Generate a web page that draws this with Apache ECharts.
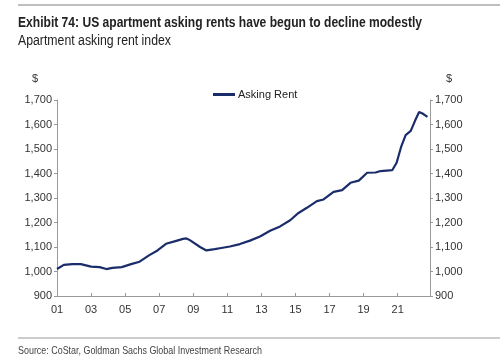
<!DOCTYPE html>
<html>
<head>
<meta charset="utf-8">
<script src="https://cdn.jsdelivr.net/npm/echarts@6/dist/echarts.min.js"></script>
<style>html,body{margin:0;padding:0;background:#fff;}#c{width:500px;height:360px;}</style>
</head>
<body>
<div id="c"></div>
<script>
// years since 2001
var yearOffsets = [0.0,0.4,0.9,1.4,2.0,2.5,2.9,3.25,3.8,4.35,4.85,5.4,5.9,6.4,6.9,7.4,7.6,7.8,8.4,8.77,9.26,9.56,10.15,10.74,11.33,11.92,12.51,13.1,13.69,14.18,14.67,15.26,15.65,16.24,16.74,17.23,17.72,18.21,18.7,19.0,19.69,19.94,20.22,20.47,20.77,21.02,21.26,21.46,21.75];
var askingRent = [1010,1027,1030,1030,1020,1018,1010,1015,1018,1030,1040,1066,1086,1113,1123,1133,1135,1128,1100,1086,1091,1095,1102,1112,1126,1143,1166,1184,1209,1239,1260,1287,1294,1325,1332,1362,1371,1403,1404,1410,1414,1444,1512,1557,1574,1615,1651,1645,1631];
var xTickValues = [0,2,4,6,8,10,12,14,16,18,20];
var xTickLabels = ['01','03','05','07','09','11','13','15','17','19','21'];
var seriesName = 'Asking Rent';
var titleText = 'Exhibit 74: US apartment asking rents have begun to decline modestly';
var subtitleText = 'Apartment asking rent index';
var sourceText = 'Source: CoStar, Goldman Sachs Global Investment Research';
var unitLabel = '$';

var pts = yearOffsets.map(function(t,i){return [t, askingRent[i]];});
var font = '"Liberation Sans", Arial, sans-serif';
var ctx = document.createElement('canvas').getContext('2d');
function fitScale(text, weight, size, target){
  ctx.font = weight + ' ' + size + 'px "Liberation Sans", Arial, sans-serif';
  var w = ctx.measureText(text).width;
  return target / w;
}
var chart = echarts.init(document.getElementById('c'), null, {renderer:'canvas'});
function fmt(v){return v.toString().replace(/\B(?=(\d{3})+(?!\d))/g, ',');}
var yBase = {
  type:'value', min:900, max:1700, interval:100,
  axisLine:{show:true, lineStyle:{color:'#999', width:1}},
  axisTick:{show:true, length:3, lineStyle:{color:'#999'}},
  axisLabel:{color:'#333', fontSize:11, fontFamily:font, margin:5, formatter:fmt},
  splitLine:{show:false}
};
function scaledText(text, weight, size, target, x, y, fill){
  return {type:'text', x:x, y:y, scaleX:fitScale(text, weight, size, target), scaleY:1,
    style:{text:text, fill:fill, fontSize:size, fontWeight:weight, fontFamily:font, textVerticalAlign:'middle', verticalAlign:'middle'}};
}
chart.setOption({
  animation:false,
  legend:{
    data:[seriesName], top:84, left:208, itemWidth:22, itemHeight:3, itemGap:4,
    icon:'rect',
    textStyle:{fontFamily:font, fontSize:11, color:'#222', padding:[0,0,0,-2]}
  },
  grid:{left:57, right:70, top:100, bottom:64},
  xAxis:{
    type:'value', min:0, max:21.9,
    axisLine:{show:true, onZero:false, lineStyle:{color:'#999'}},
    axisTick:{show:true, length:3, inside:true, customValues:xTickValues, lineStyle:{color:'#999'}},
    axisLabel:{color:'#333', fontSize:11, fontFamily:font, margin:8, customValues:xTickValues,
      formatter:function(v){var i=xTickValues.indexOf(v); return i>=0?xTickLabels[i]:'';}},
    splitLine:{show:false}
  },
  yAxis:[
    Object.assign({}, yBase, {position:'left'}),
    Object.assign({}, yBase, {position:'right'})
  ],
  series:[{
    name:seriesName, type:'line', data:pts, yAxisIndex:0,
    showSymbol:false, symbol:'none',
    lineStyle:{color:'#1b2c6b', width:2.2}, itemStyle:{color:'#1b2c6b'}
  }],
  graphic:[
    {type:'line', shape:{x1:18,y1:5,x2:500,y2:5}, style:{stroke:'#aaa', lineWidth:1.5}},
    {type:'line', shape:{x1:18,y1:338,x2:500,y2:338}, style:{stroke:'#999', lineWidth:1}},
    scaledText(titleText, 'bold', 15, 404, 18, 23, '#222'),
    scaledText(subtitleText, 'normal', 14, 153, 18, 41, '#222'),
    scaledText(sourceText, 'normal', 11, 244, 18, 351, '#444'),
    {type:'text', x:35, y:79, style:{text:unitLabel, fill:'#333', fontSize:11, fontFamily:font, align:'center', verticalAlign:'middle'}},
    {type:'text', x:449, y:79, style:{text:unitLabel, fill:'#333', fontSize:11, fontFamily:font, align:'center', verticalAlign:'middle'}}
  ]
});
</script>
</body>
</html>
